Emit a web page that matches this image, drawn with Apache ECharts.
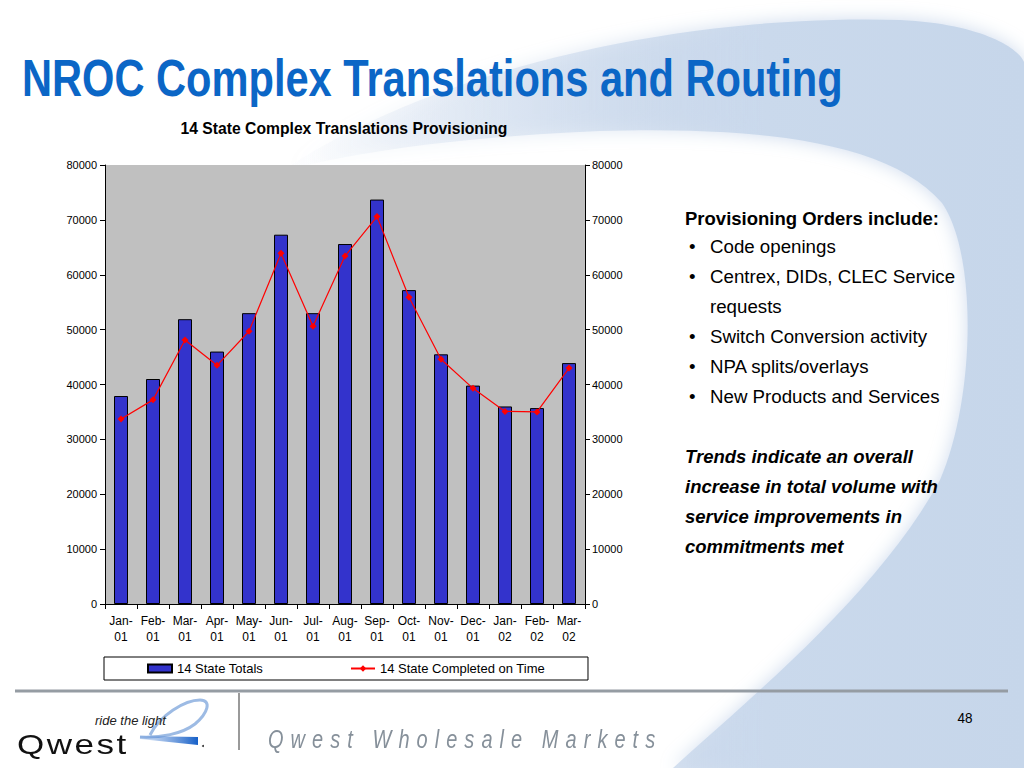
<!DOCTYPE html>
<html>
<head>
<meta charset="utf-8">
<script src="https://cdn.jsdelivr.net/npm/echarts@6/dist/echarts.min.js"></script>
<style>
html,body{margin:0;padding:0;background:#fff;}
#wrap{position:relative;width:1024px;height:768px;overflow:hidden;}
#chart{position:absolute;left:0;top:0;width:1024px;height:768px;}
.ov{position:absolute;white-space:nowrap;font-family:'Liberation Sans',Arial,sans-serif;transform-origin:0 0;}
#qwm{left:268px;top:724px;font-size:25px;line-height:30px;font-style:italic;color:#86909a;letter-spacing:8.8px;transform:scaleX(0.8);}
#qlogo{left:17px;top:733px;font-size:28px;line-height:24px;color:#111;letter-spacing:2px;transform:scaleX(1.25);}
</style>
</head>
<body>
<div id="wrap">
  <div id="chart"></div>
  <div class="ov" id="qwm">Qwest Wholesale Markets</div>
  <div class="ov" id="qlogo">Qwest</div>
</div>
<script>
// ---- data ----
const categories = ['Jan-\n01','Feb-\n01','Mar-\n01','Apr-\n01','May-\n01','Jun-\n01','Jul-\n01','Aug-\n01','Sep-\n01','Oct-\n01','Nov-\n01','Dec-\n01','Jan-\n02','Feb-\n02','Mar-\n02'];
const totals = [37900, 41000, 51900, 46000, 53000, 67300, 53000, 65600, 73700, 57200, 45500, 39800, 36000, 35700, 43900];
const onTime = [33700, 37200, 48100, 43500, 49700, 63900, 50600, 63400, 70600, 55900, 44600, 39300, 35100, 35000, 43000];
const yMin = 0, yMax = 80000, yStep = 10000;
const seriesNames = ['14 State Totals', '14 State Completed on Time'];

const slideTitle = 'NROC Complex Translations and Routing';
const chartTitle = '14 State Complex Translations Provisioning';
const listHeader = 'Provisioning Orders include:';
const bulletLines = [
  {b: true, t: 'Code openings'},
  {b: true, t: 'Centrex, DIDs, CLEC Service'},
  {b: false, t: 'requests'},
  {b: true, t: 'Switch Conversion activity'},
  {b: true, t: 'NPA splits/overlays'},
  {b: true, t: 'New Products and Services'}
];
const trendLines = ['Trends indicate an overall', 'increase in total volume with', 'service improvements in', 'commitments met'];
const pageNumber = '48';

const FONT = "'Liberation Sans', Arial, sans-serif";

// decorative shapes
const Swoosh = echarts.graphic.extendShape({
  shape: {},
  buildPath: function (ctx) {
    ctx.moveTo(280, 172);
    ctx.bezierCurveTo(450, 60, 700, 14, 900, 20);
    ctx.bezierCurveTo(985, 24, 1020, 50, 1024, 62);
    ctx.lineTo(1024, 768);
    ctx.lineTo(673, 768);
    ctx.bezierCurveTo(760, 690, 880, 590, 940, 480);
    ctx.bezierCurveTo(975, 400, 978, 255, 942, 203);
    ctx.bezierCurveTo(890, 142, 760, 126, 600, 131);
    ctx.bezierCurveTo(470, 136, 350, 152, 280, 172);
    ctx.closePath();
  }
});
echarts.graphic.registerShape('swoosh', Swoosh);
const LogoLoop = echarts.graphic.extendShape({
  shape: {},
  buildPath: function (ctx) {
    ctx.moveTo(150, 735);
    ctx.bezierCurveTo(160, 715, 185, 700, 200, 700);
    ctx.bezierCurveTo(212, 700, 208, 713, 195, 724);
    ctx.bezierCurveTo(182, 734, 160, 738, 140, 737);
  }
});
echarts.graphic.registerShape('logoLoop', LogoLoop);

const chart = echarts.init(document.getElementById('chart'), null, {renderer: 'svg', width: 1024, height: 768});

const graphics = [];
graphics.push({
  type: 'swoosh', z: -10, silent: true, shape: {},
  style: {
    fill: {type: 'linear', x: 0, y: 0, x2: 1, y2: 0, colorStops: [
      {offset: 0, color: 'rgba(200,215,235,0)'},
      {offset: 0.35, color: 'rgba(200,215,235,0.5)'},
      {offset: 0.65, color: '#cad9ec'},
      {offset: 1, color: '#c6d6ea'}
    ]},
    shadowBlur: 18, shadowColor: 'rgba(200,215,235,0.9)'
  }
});
graphics.push({
  type: 'text', x: 22, y: 78, scaleX: 0.816,
  style: {text: slideTitle, font: 'bold 51px ' + FONT, fill: '#0b66c6', textAlign: 'left', textVerticalAlign: 'middle', verticalAlign: 'middle'}
});
graphics.push({
  type: 'text', x: 344, y: 128,
  style: {text: chartTitle, font: 'bold 15.7px ' + FONT, fill: '#000', textAlign: 'center', textVerticalAlign: 'middle', verticalAlign: 'middle'}
});
graphics.push({
  type: 'text', x: 685, y: 218,
  style: {text: listHeader, font: 'bold 18.5px ' + FONT, fill: '#000', textVerticalAlign: 'middle', verticalAlign: 'middle'}
});
const bulletY = [246, 276, 306, 336, 366, 396];
bulletLines.forEach((l, i) => {
  if (l.b) {
    graphics.push({type: 'text', x: 689, y: bulletY[i],
      style: {text: '•', font: '18.7px ' + FONT, fill: '#000', textVerticalAlign: 'middle', verticalAlign: 'middle'}});
  }
  graphics.push({type: 'text', x: 710, y: bulletY[i],
    style: {text: l.t, font: '18.7px ' + FONT, fill: '#000', textVerticalAlign: 'middle', verticalAlign: 'middle'}});
});
const trendY = [456, 486, 516, 546];
trendLines.forEach((t, i) => {
  graphics.push({type: 'text', x: 685, y: trendY[i],
    style: {text: t, font: 'italic bold 18.5px ' + FONT, fill: '#000', textVerticalAlign: 'middle', verticalAlign: 'middle'}});
});
graphics.push({type: 'line', shape: {x1: 15, y1: 691, x2: 1008, y2: 691}, style: {stroke: '#959ca3', lineWidth: 3}});
graphics.push({type: 'line', shape: {x1: 239, y1: 693, x2: 239, y2: 750}, style: {stroke: '#9a9a9a', lineWidth: 2}});
graphics.push({type: 'text', x: 965, y: 718, scaleX: 0.9,
  style: {text: pageNumber, font: '15px ' + FONT, fill: '#000', textAlign: 'center', textVerticalAlign: 'middle', verticalAlign: 'middle'}});
graphics.push({type: 'logoLoop', shape: {}, style: {fill: 'none', stroke: '#9dbbe4', lineWidth: 3}});
graphics.push({type: 'polygon', shape: {points: [[140, 736], [198, 737], [198, 745], [140, 739]]},
  style: {fill: {type: 'linear', x: 0, y: 0, x2: 1, y2: 0, colorStops: [{offset: 0, color: 'rgba(90,140,215,0.2)'}, {offset: 1, color: '#1660c8'}]}}});
graphics.push({type: 'text', x: 95, y: 720,
  style: {text: 'ride the light', font: 'italic 13px ' + FONT, fill: '#222', textVerticalAlign: 'middle', verticalAlign: 'middle'}});
graphics.push({type: 'circle', shape: {cx: 203, cy: 746, r: 1}, style: {fill: '#333'}});

const plainNum = v => String(v);

const option = {
  animation: false,
  textStyle: {fontFamily: FONT},
  graphic: {elements: graphics},
  grid: {left: 105, right: 439, top: 165, bottom: 164, show: true, backgroundColor: '#c0c0c0', borderWidth: 0},
  legend: {
    left: 104, top: 657, orient: 'horizontal',
    padding: [5, 43, 5, 43], itemGap: 87, itemWidth: 24, itemHeight: 8,
    backgroundColor: '#fff', borderColor: '#000', borderWidth: 1, borderRadius: 0,
    textStyle: {fontSize: 13, color: '#000', fontFamily: FONT},
    data: [{name: seriesNames[0], icon: 'rect'}, {name: seriesNames[1]}]
  },
  xAxis: {
    type: 'category', data: categories,
    axisLine: {show: true, lineStyle: {color: '#000', width: 1}},
    axisTick: {show: true, length: 5, lineStyle: {color: '#000'}},
    axisLabel: {fontSize: 12, lineHeight: 16, color: '#000', margin: 9, interval: 0},
    splitLine: {show: false}
  },
  yAxis: [
    {type: 'value', min: yMin, max: yMax, interval: yStep, position: 'left',
     axisLine: {show: true, lineStyle: {color: '#000'}},
     axisTick: {show: true, length: 5, lineStyle: {color: '#000'}},
     axisLabel: {fontSize: 11, color: '#000', margin: 8, formatter: plainNum},
     splitLine: {show: false}},
    {type: 'value', min: yMin, max: yMax, interval: yStep, position: 'right',
     axisLine: {show: true, lineStyle: {color: '#000'}},
     axisTick: {show: true, length: 5, lineStyle: {color: '#000'}},
     axisLabel: {fontSize: 11, color: '#000', margin: 7, formatter: plainNum},
     splitLine: {show: false}}
  ],
  series: [
    {name: seriesNames[0], type: 'bar', data: totals, barWidth: 14, yAxisIndex: 0,
     itemStyle: {color: '#3333cc', borderColor: '#000', borderWidth: 1}},
    {name: seriesNames[1], type: 'line', data: onTime, yAxisIndex: 0,
     symbol: 'diamond', symbolSize: 7, showAllSymbol: true,
     lineStyle: {color: '#ff0000', width: 1.2}, itemStyle: {color: '#ff0000'}}
  ]
};
chart.setOption(option);
</script>
</body>
</html>
